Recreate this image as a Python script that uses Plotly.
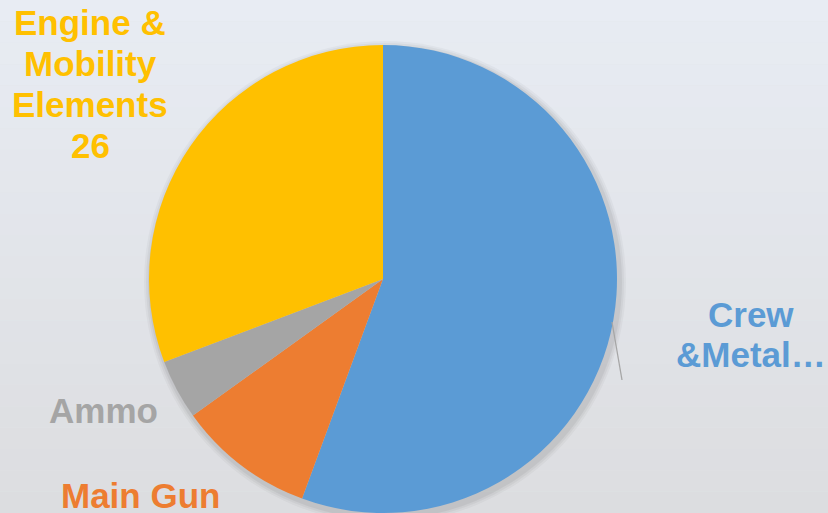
import plotly.graph_objects as go

W, H = 828, 513

categories = ["Crew &Metal…", "Main Gun", "Ammo", "Engine & Mobility Elements"]
values = [47, 8, 3.5, 26]
colors = ["#5b9bd5", "#ed7d31", "#a5a5a5", "#ffc000"]

label_lines = [
    ["Crew", "&Metal…"],
    ["Main Gun"],
    ["Ammo"],
    ["Engine &", "Mobility", "Elements", "26"],
]
# (center x, first-line center y) in pixels
label_pos_px = [(751, 314), (140, 495), (103, 410), (90, 23)]
line_gap = 40.7

fig = go.Figure()

cx, cy, r = 383, 279, 234
dom_x = [(cx - r) / W, (cx + r) / W]
dom_y = [max(0, 1 - (cy + r) / H), 1 - (cy - r) / H]

fig.add_trace(go.Pie(
    labels=categories,
    values=values,
    sort=False,
    direction="clockwise",
    rotation=0,
    marker=dict(colors=colors, line=dict(width=0)),
    textinfo="none",
    hoverinfo="label+value",
    showlegend=False,
    domain=dict(x=dom_x, y=dom_y),
))

shapes = []
top = (232, 236, 243)
bot = (220, 221, 224)
n = 24
for i in range(n):
    t = i / (n - 1)
    c = tuple(round(top[k] + (bot[k] - top[k]) * t) for k in range(3))
    shapes.append(dict(
        type="rect", xref="paper", yref="paper",
        x0=0, x1=1, y0=1 - (i + 1) / n, y1=1 - i / n,
        fillcolor="rgb(%d,%d,%d)" % c, line=dict(width=0), layer="below",
    ))
for extra, op in [(7, 0.03), (5, 0.04), (3, 0.05)]:
    shapes.append(dict(
        type="circle", xref="paper", yref="paper",
        x0=(cx - r - extra + 2) / W, x1=(cx + r + extra + 2) / W,
        y0=1 - (cy + r + extra + 3) / H, y1=1 - (cy - r - extra + 3) / H,
        fillcolor="rgba(0,0,0,%.2f)" % op, line=dict(width=0), layer="below",
    ))
shapes.append(dict(
    type="line", xref="paper", yref="paper",
    x0=612 / W, y0=1 - 322 / H, x1=622 / W, y1=1 - 380 / H,
    line=dict(color="#a6a6a6", width=1.3),
))

annotations = []
for lines, (px, py), col in zip(label_lines, label_pos_px, colors):
    for j, txt in enumerate(lines):
        annotations.append(dict(
            text="<b>%s</b>" % txt, x=px / W, y=1 - (py + j * line_gap) / H,
            xref="paper", yref="paper", showarrow=False,
            xanchor="center", yanchor="middle", align="center",
            font=dict(family="Liberation Sans, Arial, sans-serif", size=35, color=col),
        ))

fig.update_layout(
    width=W, height=H,
    margin=dict(l=0, r=0, t=0, b=0),
    paper_bgcolor="#e2e5e9",
    plot_bgcolor="rgba(0,0,0,0)",
    shapes=shapes,
    annotations=annotations,
)

fig.write_html("out.html")
